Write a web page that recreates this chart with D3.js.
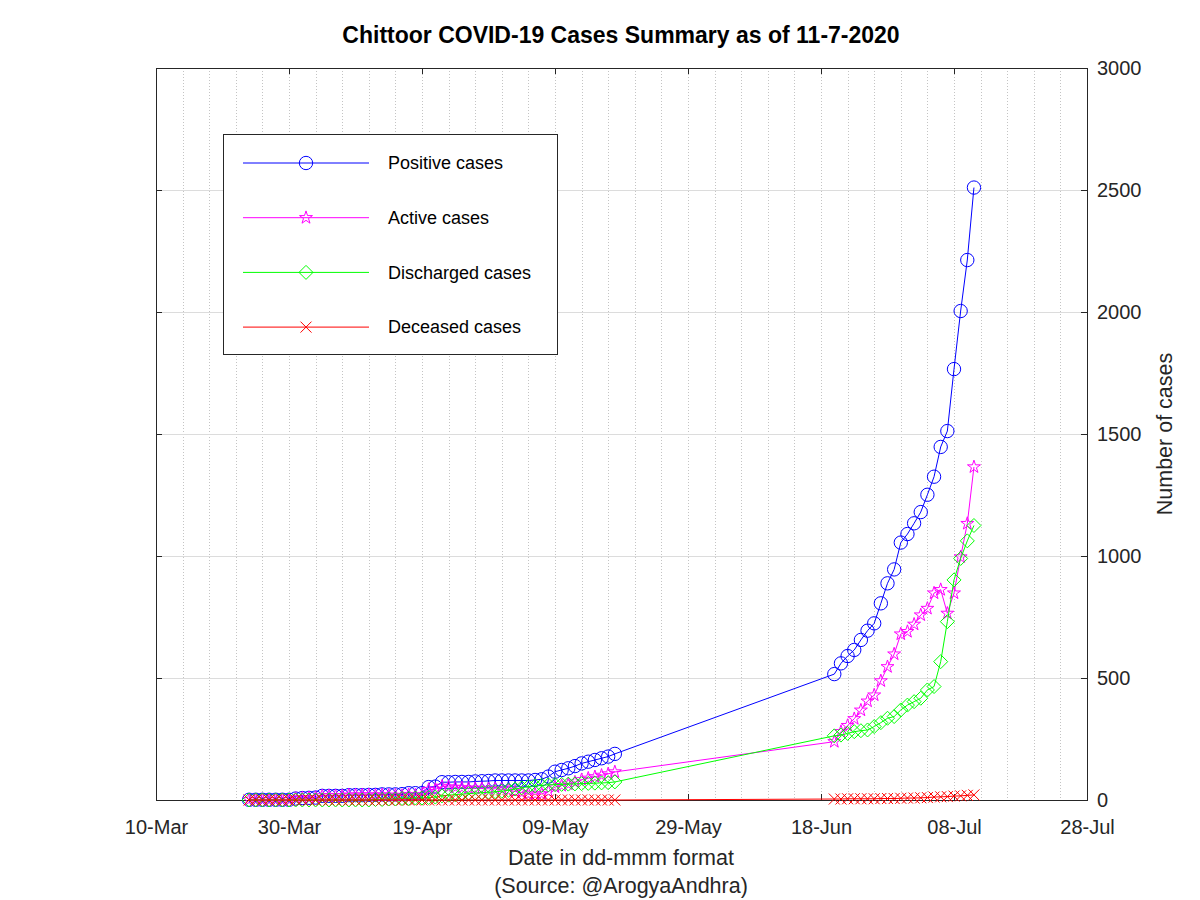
<!DOCTYPE html>
<meta charset="utf-8">
<style>
body { margin: 0; background: #fff; }
text { font-family: "Liberation Sans", Arial, sans-serif; fill: #000; }
.grid line { shape-rendering: crispEdges; }
</style>
<script src="https://d3js.org/d3.v7.min.js"></script>
<body>
<div id="chart"></div>
<script>
// dates (2020), daily reports
var dates = [
  "24-Mar","25-Mar","26-Mar","27-Mar","28-Mar","29-Mar","30-Mar","31-Mar",
  "01-Apr","02-Apr","03-Apr","04-Apr","05-Apr","06-Apr","07-Apr","08-Apr","09-Apr","10-Apr",
  "11-Apr","12-Apr","13-Apr","14-Apr","15-Apr","16-Apr","17-Apr","18-Apr","19-Apr","20-Apr",
  "21-Apr","22-Apr","23-Apr","24-Apr","25-Apr","26-Apr","27-Apr","28-Apr","29-Apr","30-Apr",
  "01-May","02-May","03-May","04-May","05-May","06-May","07-May","08-May","09-May","10-May",
  "11-May","12-May","13-May","14-May","15-May","16-May","17-May","18-May",
  "20-Jun","21-Jun","22-Jun","23-Jun","24-Jun","25-Jun","26-Jun","27-Jun","28-Jun","29-Jun","30-Jun",
  "01-Jul","02-Jul","03-Jul","04-Jul","05-Jul","06-Jul","07-Jul","08-Jul","09-Jul","10-Jul","11-Jul"
];
var positive = [
  1,1,1,1,1,1,1,6,
  8,9,10,17,17,17,17,20,20,20,
  21,21,23,23,23,24,28,28,28,53,
  55,73,73,74,74,74,76,77,78,80,
  80,80,80,80,80,82,85,96,116,123,
  130,139,150,157,164,171,178,189,
  516,560,590,615,656,694,724,806,888,945,1055,
  1090,1134,1180,1251,1325,1447,1512,1766,2004,2213,2510
];
var active = [
  1,1,1,1,1,1,1,6,
  8,9,10,17,17,17,17,20,20,20,
  21,19,21,19,19,18,22,20,20,43,
  43,56,53,52,50,48,48,47,46,46,
  44,40,35,30,25,24,25,34,53,59,
  65,73,83,89,95,101,107,115,
  239,280,305,333,368,405,430,488,546,598,680,
  690,720,758,785,848,862,765,848,996,1133,1365
];
var discharged = [
  0,0,0,0,0,0,0,0,
  0,0,0,0,0,0,0,0,0,0,
  0,2,2,4,4,6,6,8,8,10,
  12,17,20,22,24,26,28,30,32,34,
  36,40,45,50,55,58,60,62,63,64,
  65,66,67,68,69,70,71,74,
  263,266,273,280,284,287,301,317,335,342,369,
  389,403,417,451,465,567,731,902,990,1062,1125
];
var deceased = [
  0,0,0,0,0,0,0,0,
  0,0,0,0,0,0,0,0,0,0,
  0,0,0,0,0,0,0,0,0,0,
  0,0,0,0,0,0,0,0,0,0,
  0,0,0,0,0,0,0,0,0,0,
  0,0,0,0,0,0,0,0,
  4,4,5,5,5,5,5,6,6,6,7,
  8,8,9,10,12,13,14,16,17,19,21
];
var yTicks = [0, 500, 1000, 1500, 2000, 2500, 3000];

var parse = d3.timeParse("%d-%b-%Y");
var days = dates.map(function(d){ return parse(d + "-2020"); });

var margin = {top: 68, right: 113, bottom: 100, left: 156},
    width = 1200 - margin.left - margin.right,
    height = 900 - margin.top - margin.bottom;

var svg = d3.select("#chart").append("svg")
    .attr("width", 1200).attr("height", 900);
var g = svg.append("g")
    .attr("transform", "translate(" + margin.left + "," + margin.top + ")");

var x = d3.scaleTime()
    .domain([parse("10-Mar-2020"), parse("28-Jul-2020")])
    .range([0, width]);
var y = d3.scaleLinear().domain([0, 3000]).range([height, 0]);

var majorDays = d3.timeDay.range(parse("10-Mar-2020"), parse("29-Jul-2020"), 20);
var minorDays = d3.timeDay.range(parse("10-Mar-2020"), parse("29-Jul-2020"), 4);

// grid
var grid = g.append("g").attr("class", "grid");
grid.selectAll(".vg").data(minorDays).enter().append("line")
    .attr("x1", function(d){ return Math.round(x(d)) + 0.5; })
    .attr("x2", function(d){ return Math.round(x(d)) + 0.5; })
    .attr("y1", 0).attr("y2", height)
    .style("stroke", "#c4c4c4").style("stroke-dasharray", "1,2");
grid.selectAll(".hg").data(yTicks).enter().append("line")
    .attr("x1", 0).attr("x2", width)
    .attr("y1", function(d){ return Math.round(y(d)) + 0.5; })
    .attr("y2", function(d){ return Math.round(y(d)) + 0.5; })
    .style("stroke", "#dcdcdc");

// axes (ticks inward, mirrored)
var fmt = d3.timeFormat("%d-%b");
var xb = g.append("g").attr("transform", "translate(0," + height + ")")
    .call(d3.axisBottom(x).tickValues(majorDays).tickFormat(fmt).tickSizeInner(-6).tickSizeOuter(0).tickPadding(20));
var xt = g.append("g")
    .call(d3.axisTop(x).tickValues(majorDays).tickFormat("").tickSizeInner(-6).tickSizeOuter(0));
var yr = g.append("g").attr("transform", "translate(" + width + ",0)")
    .call(d3.axisRight(y).tickValues(yTicks).tickFormat(d3.format("d")).tickSizeInner(-6).tickSizeOuter(0).tickPadding(16));
var yl = g.append("g")
    .call(d3.axisLeft(y).tickValues(yTicks).tickFormat("").tickSizeInner(-6).tickSizeOuter(0));
[xb, xt, yr, yl].forEach(function(a){
    a.select(".domain").remove();
    a.selectAll("line").style("stroke", "#262626");
    a.selectAll("text").style("font-size", "20px").style("font-family", "Liberation Sans, Arial, sans-serif").style("fill", "#262626");
});
yr.selectAll("text").attr("x", 10).style("text-anchor", "start");

g.append("rect").attr("x", 0.5).attr("y", 0.5)
    .attr("width", width).attr("height", height)
    .style("fill", "none").style("stroke", "#262626");

// markers
function diamond(r){ return "M0," + (-r) + "L" + r + ",0L0," + r + "L" + (-r) + ",0Z"; }
function cross(r){ return "M" + (-r) + "," + (-r) + "L" + r + "," + r + "M" + (-r) + "," + r + "L" + r + "," + (-r); }
var starPath = d3.symbol().type(d3.symbolStar).size(52)();
var circlePath = d3.symbol().type(d3.symbolCircle).size(140)();

var series = [
    {name: "Positive cases", values: positive, color: "#0000ff", mark: circlePath},
    {name: "Active cases", values: active, color: "#ff00ff", mark: starPath},
    {name: "Discharged cases", values: discharged, color: "#00ff00", mark: diamond(7)},
    {name: "Deceased cases", values: deceased, color: "#ff0000", mark: cross(5.5)}
];

var line = d3.line()
    .x(function(d){ return x(d[0]); })
    .y(function(d){ return y(d[1]); });

series.forEach(function(s){
    var pts = days.map(function(d, i){ return [d, s.values[i]]; });
    g.append("path").datum(pts).attr("d", line)
        .style("fill", "none").style("stroke", s.color).style("stroke-width", 1);
    g.append("g").selectAll("path").data(pts).enter().append("path")
        .attr("transform", function(d){ return "translate(" + x(d[0]) + "," + y(d[1]) + ")"; })
        .attr("d", s.mark)
        .style("fill", "none").style("stroke", s.color).style("stroke-width", 1);
});

// legend
var lg = svg.append("g").attr("transform", "translate(223,134)");
lg.append("rect").attr("x", 0.5).attr("y", 0.5).attr("width", 334).attr("height", 220)
    .style("fill", "#fff").style("stroke", "#262626");
series.forEach(function(s, i){
    var ly = 29 + i * 54.7;
    lg.append("line").attr("x1", 20).attr("x2", 146).attr("y1", ly).attr("y2", ly)
        .style("stroke", s.color);
    lg.append("path").attr("transform", "translate(83," + ly + ")").attr("d", s.mark)
        .style("fill", "none").style("stroke", s.color);
    lg.append("text").attr("x", 165).attr("y", ly).attr("dy", "0.35em")
        .style("font-size", "18px").text(s.name);
});

// titles
svg.append("text").attr("x", 621).attr("y", 43).style("text-anchor", "middle")
    .style("font-size", "23px").style("font-weight", "bold")
    .text("Chittoor COVID-19 Cases Summary as of 11-7-2020");
svg.append("text").attr("x", 621).attr("y", 865).style("text-anchor", "middle")
    .style("font-size", "21.5px").style("fill", "#262626").text("Date in dd-mmm format");
svg.append("text").attr("x", 621).attr("y", 893).style("text-anchor", "middle")
    .style("font-size", "21.5px").style("fill", "#262626").text("(Source: @ArogyaAndhra)");
svg.append("text").attr("transform", "translate(1172,434) rotate(-90)")
    .style("text-anchor", "middle").style("font-size", "21.5px").style("fill", "#262626")
    .text("Number of cases");
</script>
</body>
